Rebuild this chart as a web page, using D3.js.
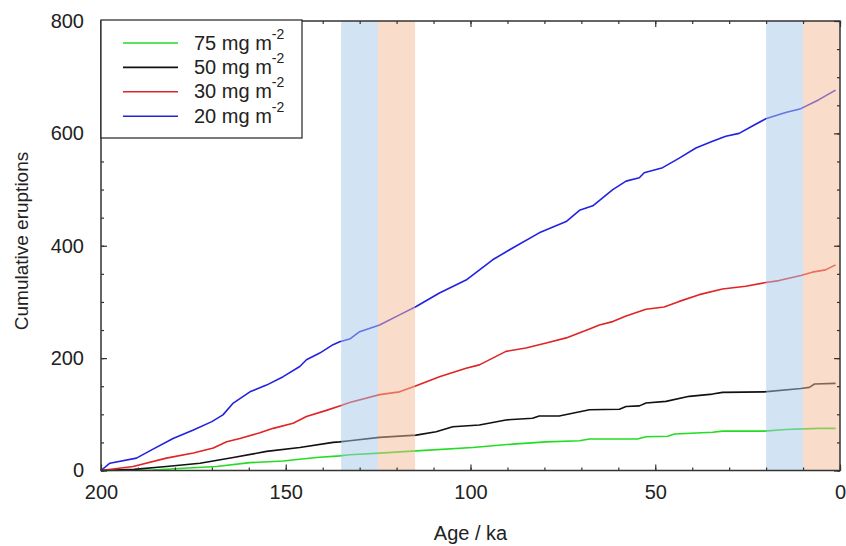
<!DOCTYPE html>
<html>
<head>
<meta charset="utf-8">
<script src="https://cdn.jsdelivr.net/npm/d3@7"></script>
<style>
  body { margin: 0; background: #fff; }
  svg { font-family: Arial, "Liberation Sans", sans-serif; }
</style>
</head>
<body>
<svg id="chart" width="846" height="546"></svg>
<script>
// cumulative eruption counts, age in ka
const age75 = [200, 186, 177.8, 168.7, 159.7, 150.7, 141.7, 135.4, 132.7, 124.6, 114.7, 99.4, 88.6, 79.5, 70.5, 67.8, 54.8, 52.5, 46.6, 44.8, 34.5, 31.8, 20.5, 14.7, 5.7, 1.2];
const val75 = [0, 1, 4, 7, 14, 17, 23, 26, 28, 31, 35, 41, 47, 51, 53, 56, 56, 60, 61, 65, 68, 70, 70, 73, 75, 75];

const age50 = [200, 191, 182.3, 173.2, 164.2, 155.2, 146.2, 137.2, 135.4, 132.7, 124.6, 114.7, 109.3, 104.8, 97.6, 90.4, 83.2, 81.4, 76, 67.8, 59.7, 57.9, 54.3, 52.5, 47.1, 40.8, 34.5, 31.8, 20.5, 10.6, 8.3, 6.9, 1.2];
const val50 = [0, 2, 7, 13, 23, 34, 41, 50, 51, 53, 59, 63, 69, 78, 81, 90, 93, 97, 97, 108, 109, 114, 115, 120, 123, 132, 136, 139, 140, 146, 148, 154, 155];

const age30 = [200, 191.3, 182.3, 175, 169.6, 166, 162.4, 157, 153.4, 148, 144.4, 139, 135.4, 132.7, 124.6, 119.2, 114.7, 108.4, 101.2, 97.6, 90.4, 85, 79.5, 74.1, 67.8, 65.1, 61.5, 57.9, 52.5, 47.6, 43.5, 38.1, 31.8, 25.5, 20.5, 16.5, 10.6, 7.5, 3.9, 1.2];
const val30 = [0, 7, 22, 31, 40, 51, 57, 67, 75, 84, 96, 107, 115, 121, 135, 140, 151, 167, 182, 188, 212, 218, 227, 236, 252, 259, 265, 275, 287, 291, 301, 313, 323, 328, 334, 338, 347, 353, 357, 366];

const age20 = [200, 197.6, 190.4, 186.8, 180.5, 175, 170, 167, 164.2, 159.7, 155.2, 150.7, 146.2, 144.4, 140.8, 137.2, 135.4, 132.7, 130, 124.6, 119.2, 114.7, 108.4, 101.2, 94, 88.6, 81.4, 74.1, 70.5, 66.9, 61.5, 57.9, 54.3, 53, 48, 43.5, 39, 34.5, 30.9, 27.3, 23.7, 20.1, 14.7, 10.6, 5.7, 1.2];
const val20 = [0, 13, 22, 35, 57, 72, 87, 99, 120, 140, 152, 167, 185, 197, 209, 224, 229, 234, 247, 259, 277, 292, 316, 339, 375, 396, 423, 443, 463, 471, 500, 515, 521, 530, 539, 556, 574, 586, 595, 600, 613, 626, 637, 644, 660, 677];

const seriesLabels = ['75', '50', '30', '20'];
const seriesColors = ['#22dd22', '#111111', '#e02424', '#2222e0'];

// shaded intervals (ka)
const bandFrom = [135, 125, 20, 10];
const bandTo = [125, 115, 10, 0];
const bandColors = ['#a5c8e8', '#f3b996', '#a5c8e8', '#f3b996'];

const xTicks = [200, 150, 100, 50, 0];
const yTicks = [0, 200, 400, 600, 800];

const svg = d3.select('#chart');
const plotL = 101, plotR = 840, plotT = 21, plotB = 470.5;

const x = d3.scaleLinear().domain([200, 0]).range([plotL, plotR]);
const y = d3.scaleLinear().domain([0, 800]).range([plotB, plotT]);

const series = [
  d3.zip(age75, val75),
  d3.zip(age50, val50),
  d3.zip(age30, val30),
  d3.zip(age20, val20)
];

const line = d3.line()
  .x(d => x(d[0]))
  .y(d => y(d[1]));

svg.selectAll('.series')
  .data(series)
  .enter().append('path')
    .attr('class', 'series')
    .attr('d', line)
    .attr('fill', 'none')
    .attr('stroke', (d, i) => seriesColors[i])
    .attr('stroke-width', 1.6)
    .attr('stroke-linejoin', 'round');

svg.selectAll('.band')
  .data(bandFrom)
  .enter().append('rect')
    .attr('class', 'band')
    .attr('x', d => x(d))
    .attr('width', (d, i) => x(bandTo[i]) - x(d))
    .attr('y', plotT)
    .attr('height', plotB - plotT)
    .attr('fill', (d, i) => bandColors[i])
    .attr('opacity', 0.5);

// axes with inward ticks on all four sides
const axisColor = '#333';
function styleAxis(g) {
  g.select('.domain').remove();
  g.selectAll('.tick line').attr('stroke', axisColor).attr('stroke-width', 1.2);
}
function styleText(g) {
  g.selectAll('text')
    .attr('font-size', 20)
    .attr('fill', '#222')
    .attr('font-family', 'Arial, "Liberation Sans", sans-serif');
}
const xMinor = d3.range(0, 201, 10);
const yMinor = d3.range(0, 801, 50);

svg.append('g')
  .attr('transform', `translate(0,${plotB})`)
  .call(d3.axisBottom(x).tickValues(xMinor).tickSize(-3).tickFormat(''))
  .call(styleAxis);
svg.append('g')
  .attr('transform', `translate(0,${plotB})`)
  .call(d3.axisBottom(x).tickValues(xTicks).tickSize(-6).tickPadding(14).tickFormat(d3.format('d')))
  .call(styleAxis)
  .call(styleText);
svg.append('g')
  .attr('transform', `translate(0,${plotT})`)
  .call(d3.axisTop(x).tickValues(xMinor).tickSize(-3).tickFormat(''))
  .call(styleAxis);
svg.append('g')
  .attr('transform', `translate(0,${plotT})`)
  .call(d3.axisTop(x).tickValues(xTicks).tickSize(-6).tickFormat(''))
  .call(styleAxis);

svg.append('g')
  .attr('transform', `translate(${plotL},0)`)
  .call(d3.axisLeft(y).tickValues(yMinor).tickSize(-3).tickFormat(''))
  .call(styleAxis);
svg.append('g')
  .attr('transform', `translate(${plotL},0)`)
  .call(d3.axisLeft(y).tickValues(yTicks).tickSize(-6).tickPadding(17).tickFormat(d3.format('d')))
  .call(styleAxis)
  .call(styleText);
svg.append('g')
  .attr('transform', `translate(${plotR},0)`)
  .call(d3.axisRight(y).tickValues(yMinor).tickSize(-3).tickFormat(''))
  .call(styleAxis);
svg.append('g')
  .attr('transform', `translate(${plotR},0)`)
  .call(d3.axisRight(y).tickValues(yTicks).tickSize(-6).tickFormat(''))
  .call(styleAxis);

svg.append('rect')
  .attr('x', plotL).attr('y', plotT)
  .attr('width', plotR - plotL).attr('height', plotB - plotT)
  .attr('fill', 'none')
  .attr('stroke', axisColor)
  .attr('stroke-width', 1.5);

// axis titles
svg.append('text')
  .attr('x', (plotL + plotR) / 2)
  .attr('y', 540)
  .attr('text-anchor', 'middle')
  .attr('font-size', 20)
  .attr('fill', '#222')
  .text('Age / ka');

svg.append('text')
  .attr('transform', 'translate(28,241) rotate(-90)')
  .attr('text-anchor', 'middle')
  .attr('font-size', 19)
  .attr('fill', '#222')
  .text('Cumulative eruptions');

// legend
const legend = svg.append('g');
legend.append('rect')
  .attr('x', 101).attr('y', 20)
  .attr('width', 201).attr('height', 118)
  .attr('fill', '#fff')
  .attr('stroke', '#222')
  .attr('stroke-width', 1.2);

const rows = legend.selectAll('.row')
  .data(seriesLabels)
  .enter().append('g')
    .attr('class', 'row')
    .attr('transform', (d, i) => `translate(0,${43 + i * 24.4})`);

rows.append('line')
  .attr('x1', 123).attr('x2', 178)
  .attr('stroke', (d, i) => seriesColors[i])
  .attr('stroke-width', 1.6);

const label = rows.append('text')
  .attr('x', 194)
  .attr('y', 6.5)
  .attr('font-size', 20)
  .attr('fill', '#222');
label.append('tspan').text(d => d + ' mg m');
label.append('tspan')
  .attr('dy', -11)
  .attr('font-size', 14)
  .text('-2');
</script>
</body>
</html>
